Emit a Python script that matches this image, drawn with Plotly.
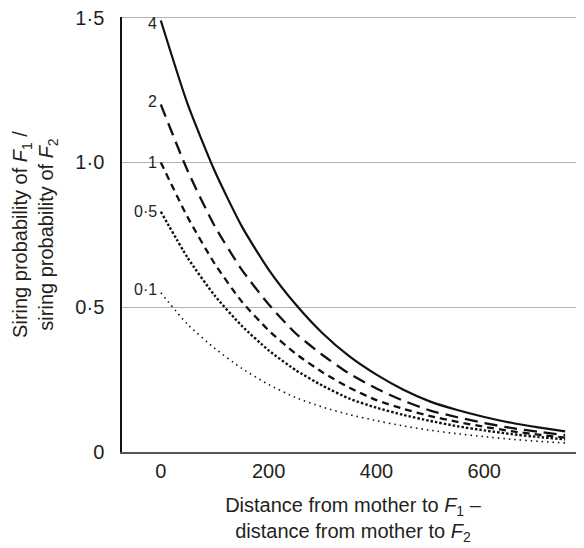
import plotly.graph_objects as go

# distance difference (x)
distance = [0, 50, 100, 150, 200, 250, 300, 350, 400, 450, 500, 550, 600, 650, 700, 750]

# siring probability ratio for each parameter value
ratio_4 = [1.49, 1.20, 0.97, 0.78, 0.63, 0.51, 0.41, 0.33, 0.267, 0.215, 0.174, 0.145, 0.121, 0.101, 0.085, 0.071]
ratio_2 = [1.20, 0.97, 0.78, 0.63, 0.51, 0.41, 0.335, 0.27, 0.219, 0.177, 0.143, 0.120, 0.100, 0.083, 0.070, 0.058]
ratio_1 = [1.00, 0.81, 0.65, 0.52, 0.42, 0.34, 0.275, 0.222, 0.179, 0.149, 0.124, 0.104, 0.087, 0.072, 0.060, 0.050]
ratio_05 = [0.83, 0.67, 0.54, 0.436, 0.351, 0.283, 0.229, 0.184, 0.153, 0.128, 0.107, 0.089, 0.0745, 0.062, 0.052, 0.0434]
ratio_01 = [0.55, 0.44, 0.358, 0.289, 0.233, 0.188, 0.155, 0.129, 0.108, 0.090, 0.075, 0.063, 0.053, 0.044, 0.037, 0.031]

series_labels = ["4", "2", "1", "0·5", "0·1"]
series_values = [ratio_4, ratio_2, ratio_1, ratio_05, ratio_01]
label_y = [1.48, 1.21, 1.0, 0.83, 0.56]

y_tickvals = [0, 0.5, 1.0, 1.5]
y_ticktext = ["0", "0·5", "1·0", "1·5"]
x_tickvals = [0, 200, 400, 600]
x_ticktext = ["0", "200", "400", "600"]

styles = [
    dict(dash="solid", width=2.2),
    dict(dash="13px,7px", width=2.3),
    dict(dash="7px,5px", width=2.3),
    dict(dash="2.5px,2px", width=2.4),
    dict(dash="1.5px,4px", width=1.6),
]

FONT = "Liberation Sans, Arial, Helvetica, sans-serif"
TXT = "#231f20"
GRID = "#b0b0b0"

fig = go.Figure()
for lab, vals, st in zip(series_labels, series_values, styles):
    fig.add_trace(go.Scatter(
        x=distance, y=vals, mode="lines", name=lab,
        line=dict(color="#111111", width=st["width"], dash=st["dash"], shape="spline", smoothing=0.6),
        showlegend=False, hoverinfo="skip",
    ))

for lab, yv in zip(series_labels, label_y):
    fig.add_annotation(x=-3, y=yv, text=lab, showarrow=False, xanchor="right", yanchor="middle",
                       font=dict(family=FONT, size=16, color=TXT))

# top gridline (at the upper edge of the plot area)
fig.add_shape(type="line", xref="paper", yref="y", x0=0, x1=1, y0=y_tickvals[-1], y1=y_tickvals[-1],
              line=dict(color=GRID, width=1), layer="below")

fig.update_layout(
    width=576, height=540,
    margin=dict(l=114, r=0, t=9, b=96),
    plot_bgcolor="white", paper_bgcolor="white",
    font=dict(family=FONT, size=20, color=TXT),
)
fig.update_xaxes(
    range=[-72, 785], tickvals=x_tickvals, ticktext=x_ticktext,
    showgrid=False, zeroline=False, showline=True, linecolor="#555555", linewidth=1.5,
    ticks="", tickfont=dict(size=20), automargin=False, ticklabeloverflow="allow",
    title=dict(text="Distance from mother to <i>F</i><sub>1</sub> –<br>distance from mother to <i>F</i><sub>2</sub>",
               font=dict(size=20), standoff=17),
)
fig.update_yaxes(
    range=[0, 1.502], tickvals=y_tickvals, ticktext=y_ticktext,
    showgrid=True, gridcolor=GRID, gridwidth=1, zeroline=False,
    showline=True, linecolor="#111111", linewidth=1.5, ticks="", ticklabelstandoff=12,
    tickfont=dict(size=20), automargin=False, ticklabeloverflow="allow",
    title=dict(text="Siring probability of <i>F</i><sub>1</sub> /<br>siring probability of <i>F</i><sub>2</sub>",
               font=dict(size=20), standoff=16),
)

fig.write_html("out.html")
